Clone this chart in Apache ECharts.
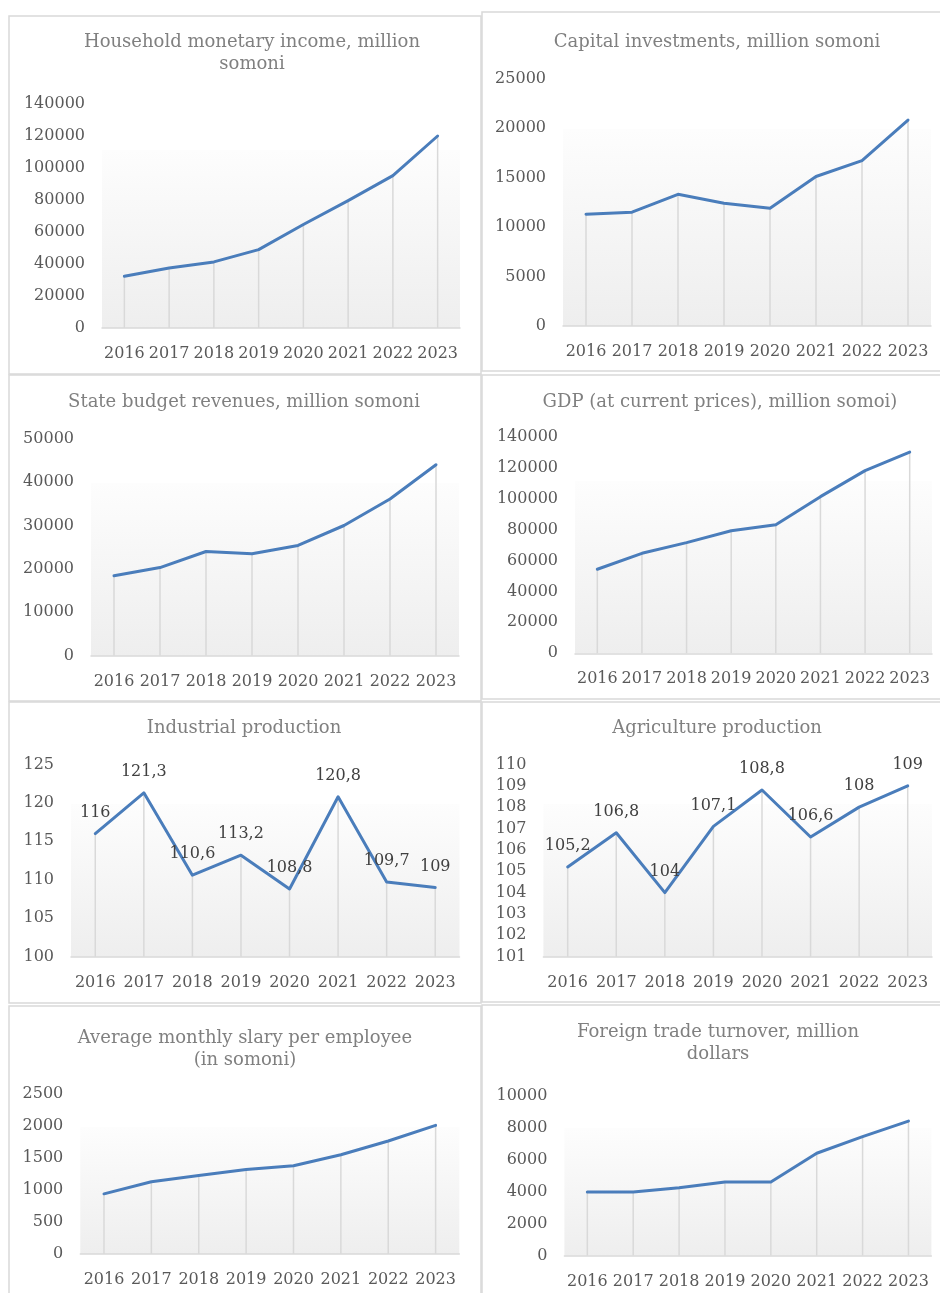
<!DOCTYPE html>
<html>
<head>
<meta charset="utf-8">
<script src="https://cdn.jsdelivr.net/npm/echarts@6/dist/echarts.min.js"></script>
<style>
html,body{margin:0;padding:0;background:#fff;}
#c{width:940px;height:1293px;}
</style>
</head>
<body>
<div id="c"></div>
<script>
// ---- data ----
const years = ['2016', '2017', '2018', '2019', '2020', '2021', '2022', '2023'];
const householdIncome = [32300, 37500, 41300, 49000, 64700, 79600, 95200, 120000];
const capitalInvestments = [11300, 11500, 13300, 12400, 11900, 15100, 16700, 20800];
const budgetRevenues = [18400, 20300, 24000, 23500, 25400, 30000, 36100, 44000];
const gdp = [54300, 64600, 71500, 79200, 83000, 101200, 118000, 130000];
const industrialProduction = [116, 121.3, 110.6, 113.2, 108.8, 120.8, 109.7, 109];
const agricultureProduction = [105.2, 106.8, 104, 107.1, 108.8, 106.6, 108, 109];
const averageSalary = [940, 1130, 1225, 1320, 1380, 1550, 1765, 2010];
const foreignTrade = [3970, 3970, 4240, 4590, 4600, 6390, 7430, 8400];

const titles = [
  'Household monetary income, million\nsomoni',
  'Capital investments, million somoni',
  'State budget revenues, million somoni',
  'GDP (at current prices), million somoi)',
  'Industrial production',
  'Agriculture production',
  'Average monthly slary per employee\n(in somoni)',
  'Foreign trade turnover, million\ndollars'
];
const seriesData = [householdIncome, capitalInvestments, budgetRevenues, gdp,
  industrialProduction, agricultureProduction, averageSalary, foreignTrade];
const yMin = [0, 0, 0, 0, 100, 101, 0, 0];
const yMax = [140000, 25000, 50000, 140000, 125, 110, 2500, 10000];
const yStep = [20000, 5000, 10000, 20000, 5, 1, 500, 2000];
const showLabels = [false, false, false, false, true, true, false, false];

// ---- layout ----
const panels = [
  {box: [9, 16, 472, 358], grid: [102, 104, 358, 224], title: [252, 31]},
  {box: [482, 12, 460, 359], grid: [563, 78.5, 368, 247.5], title: [717, 31]},
  {box: [9, 375, 472, 326], grid: [91, 438.7, 368, 217], title: [244, 391]},
  {box: [482, 375, 460, 324], grid: [575, 436.6, 357, 216.7], title: [720, 391]},
  {box: [9, 702, 472, 301], grid: [71, 764.4, 388.5, 192.3], title: [244, 717]},
  {box: [482, 702, 460, 300], grid: [543.4, 764.4, 388.6, 192.3], title: [717, 717]},
  {box: [9, 1006, 472, 300], grid: [80.3, 1094, 379, 160], title: [245, 1027]},
  {box: [482, 1005, 460, 300], grid: [564.4, 1095.5, 367, 160], title: [718, 1021]}
];

const FONT = 'DejaVu Serif';
const LINE_COLOR = '#4a7dbb';

const option = {
  animation: false,
  backgroundColor: '#ffffff',
  title: [], grid: [], xAxis: [], yAxis: [], series: [],
  graphic: []
};

panels.forEach((p, i) => {
  option.graphic.push({
    type: 'rect', silent: true,
    shape: {x: p.box[0], y: p.box[1], width: p.box[2], height: p.box[3]},
    style: {fill: 'none', stroke: '#d9d9d9', lineWidth: 1.5}
  });
  option.title.push({
    text: titles[i], left: p.title[0], top: p.title[1], textAlign: 'center', padding: 0,
    textStyle: {fontFamily: FONT, fontSize: 18, fontWeight: 'normal', color: '#808080', lineHeight: 22}
  });
  option.grid.push({
    left: p.grid[0], top: p.grid[1], width: p.grid[2], height: p.grid[3],
    show: true, borderWidth: 0,
    backgroundColor: new echarts.graphic.LinearGradient(0, 0, 0, 1, [
      {offset: 0, color: '#ffffff'},
      {offset: 0.205, color: '#ffffff'},
      {offset: 0.206, color: '#fdfdfd'},
      {offset: 1, color: '#eeeeee'}
    ])
  });
  option.xAxis.push({
    type: 'category', gridIndex: i, data: years, boundaryGap: true,
    axisLine: {lineStyle: {color: '#d9d9d9', width: 1.5}},
    axisTick: {show: false},
    axisLabel: {fontFamily: FONT, fontSize: 16, color: '#595959', margin: 18, interval: 0}
  });
  option.yAxis.push({
    type: 'value', gridIndex: i, min: yMin[i], max: yMax[i], interval: yStep[i],
    axisLine: {show: false}, axisTick: {show: false}, splitLine: {show: false},
    axisLabel: {fontFamily: FONT, fontSize: 16, color: '#595959', margin: 17,
      formatter: (v) => String(v)}
  });
  option.series.push({
    type: 'bar', xAxisIndex: i, yAxisIndex: i, data: seriesData[i],
    barWidth: 1.5, silent: true, z: 1,
    itemStyle: {color: '#d9d9d9'}
  });
  option.series.push({
    type: 'line', xAxisIndex: i, yAxisIndex: i, data: seriesData[i],
    symbol: 'circle', symbolSize: 0, showSymbol: true, z: 3,
    itemStyle: {color: LINE_COLOR},
    lineStyle: {color: LINE_COLOR, width: 3, cap: 'round', join: 'round'},
    label: {
      show: showLabels[i], position: 'top', distance: 13,
      fontFamily: FONT, fontSize: 16, color: '#404040',
      formatter: (d) => String(d.value).replace('.', ',')
    }
  });
});

const chart = echarts.init(document.getElementById('c'), null, {renderer: 'canvas'});
chart.setOption(option);
</script>
</body>
</html>
